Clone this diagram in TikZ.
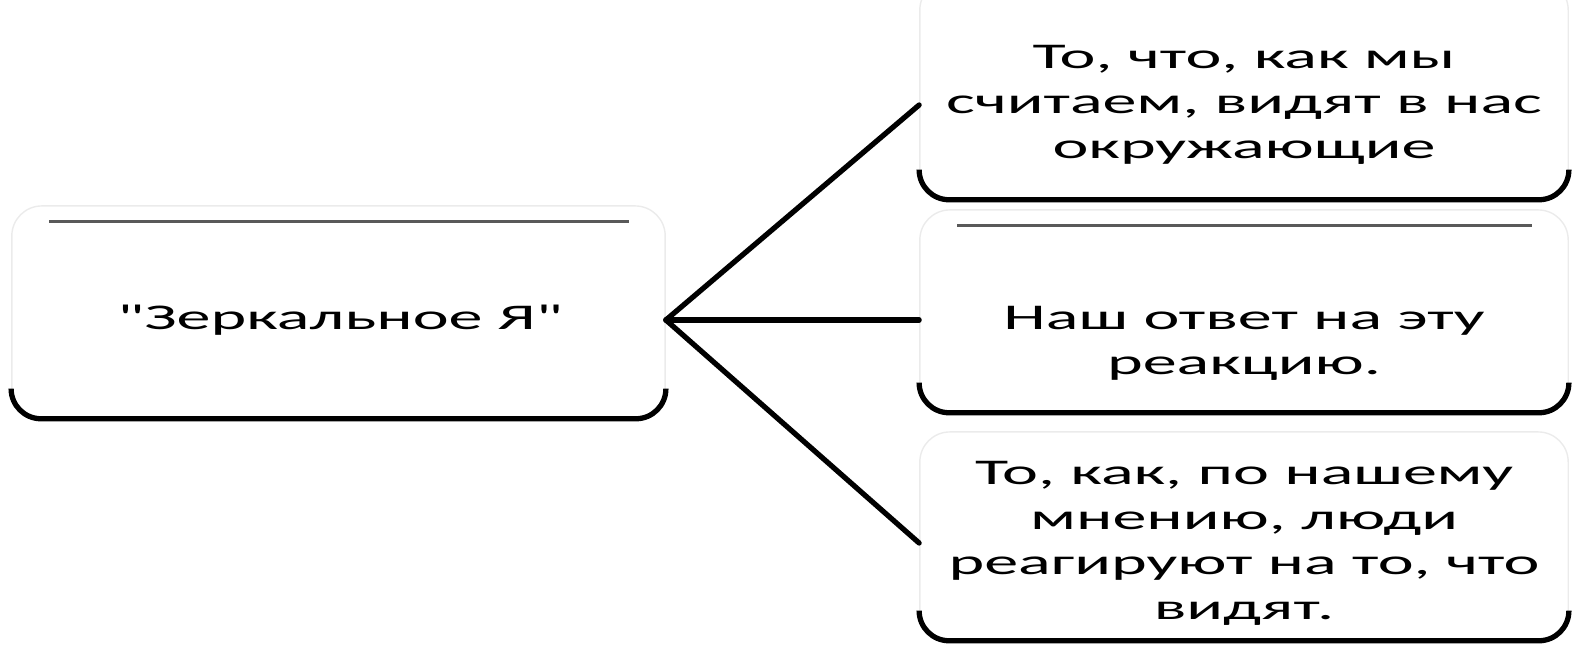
\documentclass[tikz,border=0pt]{standalone}
\usepackage{fontspec}
\newfontfamily\cardfont[FakeStretch=1.88]{Carlito}
\usetikzlibrary{positioning}
\begin{document}
\begin{tikzpicture}[x=0.01cm,y=-0.01cm,
  card/.style={draw=black!8,rounded corners=3mm,minimum width=6.48cm,inner sep=0pt},
  cardtext/.style={align=center,font=\cardfont\fontsize{10.3}{12.8}\selectfont,inner sep=0pt},
  base/.style={line width=1.5pt,rounded corners=3mm},
  rim/.style={black!65,line width=0.9pt},
  link/.style={line width=1.5pt,line cap=round}]
  \useasboundingbox (0,0) rectangle (1579,649);
  % Left card
  \node[card,minimum width=6.53cm,minimum height=2.12cm] (self) at (338.5,312) {};
  \node[cardtext] (selftxt) at (340,320) {"Зеркальное Я"};
  % Right cards
  \node[card,minimum height=2.19cm] (view) at (1244,89.5) {};
  \node[card,minimum height=2.02cm] (reply) at (1244,311) {};
  \node[card,minimum height=2.08cm] (guess) at (1244,536) {};
  \node[cardtext] (viewtxt) at (1244,105) {То, что, как мы\\считаем, видят в нас\\окружающие};
  \node[cardtext] (replytxt) at (1244,343) {Наш ответ на эту\\реакцию.};
  \node[cardtext] (guesstxt) at (1244,543) {То, как, по нашему\\мнению, люди\\реагируют на то, что\\видят.};
  % Bottom edges and top rims
  \foreach \c in {self,view,reply,guess}{
    \draw[base] ([shift={(0,-30)}]\c.south west) -- (\c.south west) -- (\c.south east) -- ([shift={(0,-30)}]\c.south east);
  }
  \foreach \c in {self,reply}{
    \draw[rim] ([shift={(38,16)}]\c.north west) -- ([shift={(-37,16)}]\c.north east);
  }
  % Links
  \draw[link] (self.east |- selftxt) -- (view.west |- viewtxt);
  \draw[link] (self.east |- selftxt) -- (reply.west |- selftxt);
  \draw[link] (self.east |- selftxt) -- (guess.west |- guesstxt);
\end{tikzpicture}
\end{document}
